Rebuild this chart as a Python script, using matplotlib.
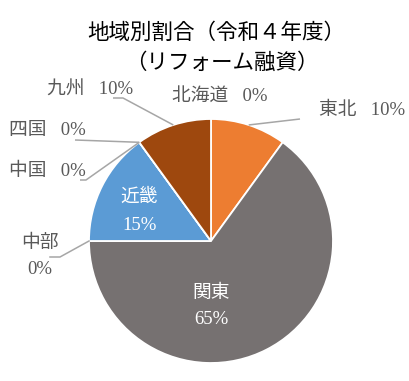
import numpy as np
import matplotlib
matplotlib.use('Agg')
import matplotlib.pyplot as plt

# data
regions = ['北海道', '東北', '関東', '中部', '近畿', '中国', '四国', '九州']
shares = [0, 10, 65, 0, 15, 0, 0, 10]
colors_ = ['#4472C4', '#ED7D31', '#767171', '#FFC000', '#5B9BD5', '#70AD47', '#264478', '#9E480E']
title_lines = ['地域別割合（令和４年度）', '（リフォーム融資）']

W, H = 410, 381
fig = plt.figure(figsize=(W / 100, H / 100), dpi=100)
ax = fig.add_axes([0, 0, 1, 1])
ax.set_xlim(0, W)
ax.set_ylim(0, H)
ax.set_aspect('equal')
ax.axis('off')

cx, cy, r = 211, H - 241, 122
wedges, _ = ax.pie(shares, colors=colors_, startangle=90, counterclock=False,
                   center=(cx, cy), radius=r,
                   wedgeprops=dict(edgecolor='white', linewidth=1.3))
ax.set_xlim(0, W)
ax.set_ylim(0, H)

lab_font = ['Liberation Serif', 'Noto Sans CJK JP']
gray = '#595959'
line_c = '#A6A6A6'
fs = 13.5

# label layout in pixel coords (x, y from top), elbow points for leader lines
outside = {
    '北海道': dict(xy=(220, 96), elbow=None),
    '東北': dict(xy=(362, 110), elbow=[(300, 119)]),
    '九州': dict(xy=(90, 90), elbow=[(113, 98), (123, 98)]),
    '四国': dict(xy=(47, 131), elbow=[(75, 140)]),
    '中国': dict(xy=(47, 171), elbow=[(80, 180), (86, 180)]),
}

for w, name, v in zip(wedges, regions, shares):
    ang = np.deg2rad((w.theta1 + w.theta2) / 2)
    px, py = cx + r * np.cos(ang), cy + r * np.sin(ang)
    if name in outside:
        lay = outside[name]
        ax.text(lay['xy'][0], H - lay['xy'][1], f'{name}   {v}%', ha='center', va='center',
                fontsize=fs, color=gray, family=lab_font)
        if lay['elbow']:
            pts = [(x, H - y) for x, y in lay['elbow']] + [(px, py)]
            xs, ys = zip(*pts)
            ax.plot(xs, ys, color=line_c, lw=1.1, solid_capstyle='butt')
    elif name == '中部':
        ax.text(40, H - 243, name, ha='center', va='center', fontsize=fs, color=gray, family=lab_font)
        ax.text(40, H - 270, f'{v}%', ha='center', va='center', fontsize=fs, color=gray, family=lab_font)
        pts = [(50, H - 257), (60, H - 257), (px, py)]
        xs, ys = zip(*pts)
        ax.plot(xs, ys, color=line_c, lw=1.1)
    elif name == '近畿':
        ax.text(139, H - 197, name, ha='center', va='center', fontsize=fs, color='white', family=lab_font)
        ax.text(140, H - 226, f'{v}%', ha='center', va='center', fontsize=fs, color='white', family=lab_font)
    elif name == '関東':
        ax.text(211, H - 293, name, ha='center', va='center', fontsize=fs, color='white', family=lab_font)
        ax.text(211, H - 320, f'{v}%', ha='center', va='center', fontsize=fs, color='white', family=lab_font)

fig.text(216 / W, 1 - 33 / H, title_lines[0], ha='center', va='center', fontsize=15.5,
         color='#000000', family=['Noto Sans CJK JP', 'DejaVu Sans'])
fig.text(222 / W, 1 - 63 / H, title_lines[1], ha='center', va='center', fontsize=15.5,
         color='#000000', family=['Noto Sans CJK JP', 'DejaVu Sans'])

plt.savefig('out.png', dpi=100)
